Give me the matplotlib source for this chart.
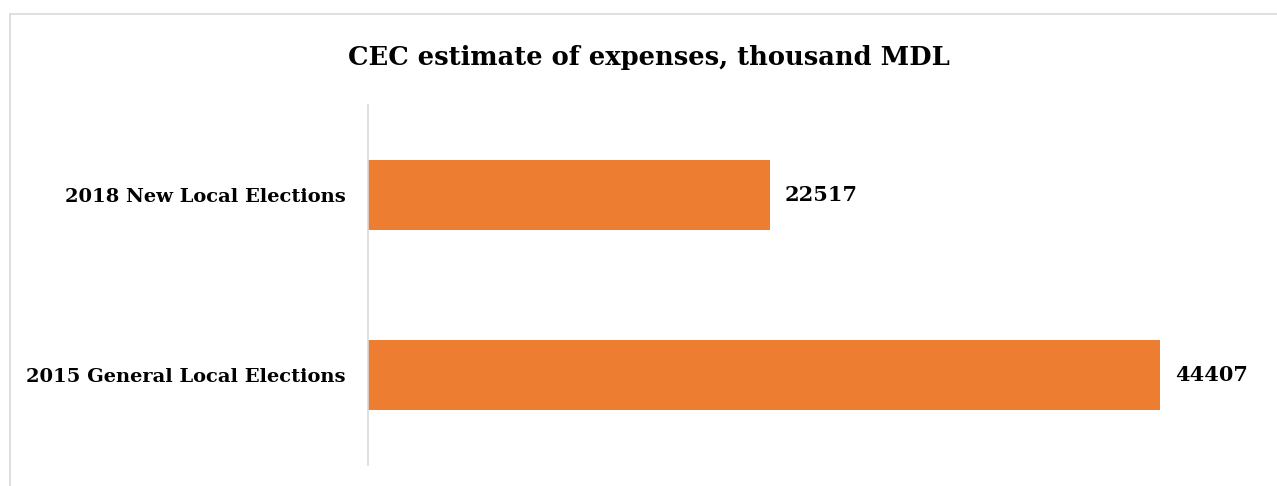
import matplotlib.pyplot as plt
from matplotlib.lines import Line2D

# === DATA ===
categories = ["2015 General Local Elections", "2018 New Local Elections"]
values = [44407, 22517]
title = "CEC estimate of expenses, thousand MDL"

W, H = 1277, 486
plt.rcParams['font.family'] = ['DejaVu Serif']

fig = plt.figure(figsize=(W / 100, H / 100), dpi=100)
ax = fig.add_axes([368 / W, 21 / H, 892 / W, 360 / H])

ypos = list(range(len(categories)))
ax.barh(ypos, values, height=0.39, color='#ED7D31')

ax.set_xlim(0, 50000)
ax.set_ylim(-0.5, 1.5)
ax.set_yticks(ypos)
ax.set_yticklabels(categories, fontsize=14, fontweight='bold')
ax.tick_params(axis='y', length=0, pad=16)
ax.set_xticks([])

for s in ['top', 'right', 'bottom']:
    ax.spines[s].set_visible(False)
ax.spines['left'].set_color('#D9D9D9')
ax.spines['left'].set_linewidth(1.2)

# value labels
for y, v in zip(ypos, values):
    ax.annotate(str(v), (v, y), xytext=(15, 0), textcoords='offset pixels',
                va='center', ha='left', fontsize=15, fontweight='bold')

fig.text(649 / W, 1 - 58 / H, title, ha='center', va='center',
         fontsize=18.5, fontweight='bold')

# outer chart border (partly cropped)
fig.add_artist(Line2D([10 / W, 1], [1 - 14 / H, 1 - 14 / H], color='#D9D9D9', lw=1.2))
fig.add_artist(Line2D([10 / W, 10 / W], [0, 1 - 14 / H], color='#D9D9D9', lw=1.2))

fig.savefig('out.png', dpi=100, facecolor='white')
